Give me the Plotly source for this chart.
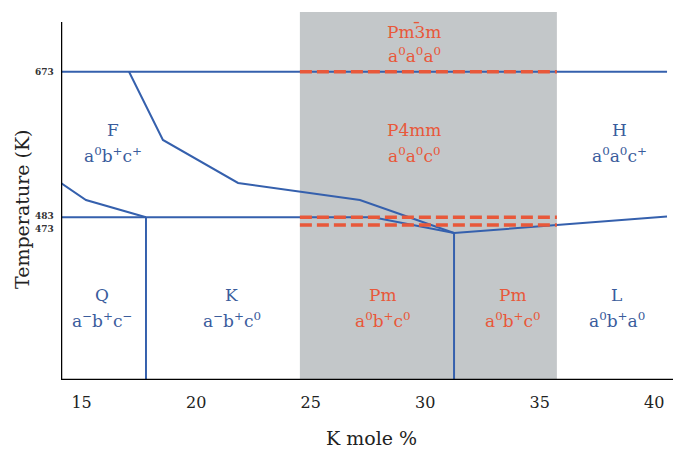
import plotly.graph_objects as go

# ---- data (K mole %, Temperature K) ----
upper_x = [17.07, 18.55, 21.83, 27.15, 31.26]
upper_y = [673, 583.9, 527.8, 505.6, 462.5]
lower_x = [14.10, 15.19, 17.81]
lower_y = [527.8, 505.6, 483]
mid_x = [14.10, 27.72, 31.26, 40.56]
mid_y = [483, 483, 462.5, 484]
top_x = [14.10, 40.56]
top_y = [673, 673]
vert1_x = [17.81, 17.81]
vert1_y = [270.7, 483]
vert2_x = [31.26, 31.26]
vert2_y = [270.7, 462.5]
shade_x = [24.53, 35.75]
dashed_T = [673, 483, 473]
ytick_vals = [673, 483, 473]
xtick_vals = [15, 20, 25, 30, 35, 40]

labels = [
    # x, y_title, y_sub, title, sub, colour
    (16.37, 597, 564, "F", "a<sup>0</sup>b<sup>+</sup>c<sup>+</sup>", "blue"),
    (29.55, 725, 695, "Pm3m", "a<sup>0</sup>a<sup>0</sup>a<sup>0</sup>", "red"),
    (29.55, 597, 564, "P4mm", "a<sup>0</sup>a<sup>0</sup>c<sup>0</sup>", "red"),
    (38.50, 597, 564, "H", "a<sup>0</sup>a<sup>0</sup>c<sup>+</sup>", "blue"),
    (15.89, 381, 349, "Q", "a<sup>\u2212</sup>b<sup>+</sup>c<sup>\u2212</sup>", "blue"),
    (21.56, 381, 349, "K", "a<sup>\u2212</sup>b<sup>+</sup>c<sup>0</sup>", "blue"),
    (28.16, 381, 349, "Pm", "a<sup>0</sup>b<sup>+</sup>c<sup>0</sup>", "red"),
    (33.84, 381, 349, "Pm", "a<sup>0</sup>b<sup>+</sup>c<sup>0</sup>", "red"),
    (38.37, 381, 349, "L", "a<sup>0</sup>b<sup>+</sup>a<sup>0</sup>", "blue"),
]

BLUE_LINE = "#3560ad"
BLUE_TXT = "#3a5c9c"
RED = "#e8583a"
SHADE = "#c3c7c9"
FONT = "DejaVu Serif"

XMIN, XMAX = 14.10, 40.82
YMIN, YMAX = 270.7, 750.9
PW, PH = 612, 368  # plot area size in px

fig = go.Figure()

line = dict(color=BLUE_LINE, width=2)
for xs, ys in [(upper_x, upper_y), (lower_x, lower_y), (mid_x, mid_y),
               (top_x, top_y), (vert1_x, vert1_y), (vert2_x, vert2_y)]:
    fig.add_trace(go.Scatter(x=xs, y=ys, mode="lines", line=line,
                             hoverinfo="skip", showlegend=False))

for T in dashed_T:
    fig.add_trace(go.Scatter(x=shade_x, y=[T, T], mode="lines",
                             line=dict(color=RED, width=3.5, dash="12px,5px"),
                             hoverinfo="skip", showlegend=False))

fig.add_shape(type="rect", xref="x", yref="y", x0=shade_x[0], x1=shade_x[1],
              y0=YMIN, y1=YMAX, fillcolor=SHADE, line_width=0, layer="below")

# spines
fig.add_shape(type="line", xref="x", yref="y", x0=XMIN, x1=XMIN, y0=YMIN, y1=738,
              line=dict(color="black", width=2.5))
fig.add_shape(type="line", xref="paper", yref="y", x0=0, x1=1, y0=YMIN, y1=YMIN,
              line=dict(color="black", width=2.5))

for x, yt, ys, t, s, c in labels:
    col = BLUE_TXT if c == "blue" else RED
    fig.add_annotation(x=x, y=yt, text=t, showarrow=False,
                       font=dict(family=FONT, size=17, color=col))
    fig.add_annotation(x=x, y=ys, text=s, showarrow=False,
                       font=dict(family=FONT, size=17, color=col))
    if t == "Pm3m":
        # bar over the 3 (Pm3̄m)
        fig.add_annotation(x=x, y=yt, text="\u00af", showarrow=False,
                           xshift=2, yshift=2,
                           font=dict(family=FONT, size=18, color=col))

# y tick labels as annotations (offset to avoid overlap)
for v, sh in zip(ytick_vals, [0, 1, -4]):
    fig.add_annotation(x=0, xref="paper", y=v, yref="y", text="<b>%d</b>" % v,
                       showarrow=False, xanchor="right", xshift=-5, yshift=sh,
                       font=dict(family=FONT, size=9, color="#333333"))

# axis titles
fig.add_annotation(xref="paper", x=-39 / PW, yref="paper", y=(380 - 209) / PH,
                   xanchor="center", yanchor="middle",
                   text="Temperature (K)", showarrow=False, textangle=-90,
                   font=dict(family=FONT, size=19, color="#222222"))
fig.add_annotation(xref="paper", x=(371 - 61) / PW, yref="paper", y=-(438 - 380) / PH,
                   xanchor="center", yanchor="middle",
                   text="K mole %", showarrow=False,
                   font=dict(family=FONT, size=19, color="#222222"))

fig.update_layout(
    width=673, height=450,
    margin=dict(l=61, r=0, t=12, b=70),
    paper_bgcolor="white", plot_bgcolor="white",
    font=dict(family=FONT),
    xaxis=dict(range=[XMIN, XMAX], tickvals=xtick_vals, showgrid=False,
               zeroline=False, showline=False, ticks="outside", ticklen=8,
               tickcolor="rgba(0,0,0,0)",
               tickfont=dict(family=FONT, size=16, color="#222222")),
    yaxis=dict(range=[YMIN, YMAX], tickvals=[], showgrid=False, zeroline=False,
               showline=False, ticks=""),
)

fig.write_html("out.html")
